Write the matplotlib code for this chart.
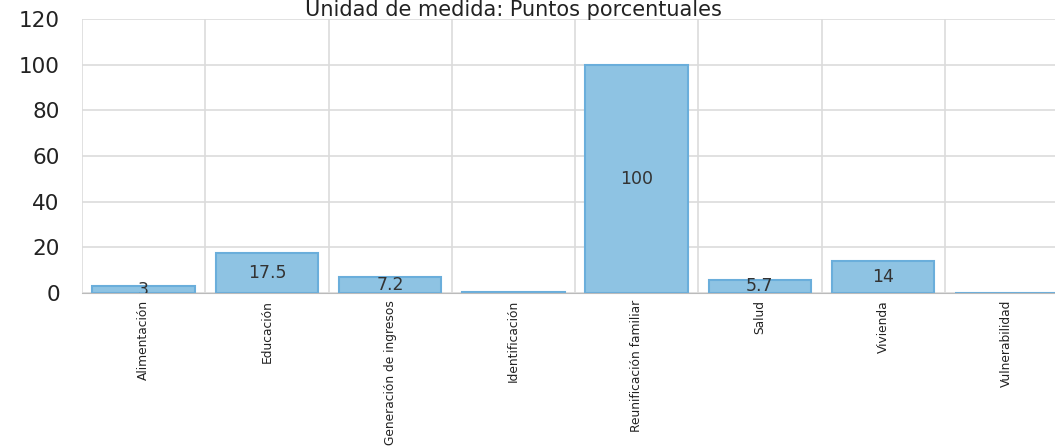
import matplotlib
matplotlib.use("Agg")
import matplotlib.pyplot as plt
import numpy as np

# Data
categories = ["Alimentación", "Educación", "Generación de ingresos", "Identificación",
              "Reunificación familiar", "Salud", "Vivienda", "Vulnerabilidad"]
values = [3, 17.5, 7.2, 0.3, 100, 5.7, 14, 0.2]
value_labels = ["3", "17.5", "7.2", "", "100", "5.7", "14", ""]
y_ticks = [0, 20, 40, 60, 80, 100, 120]

BAR_COLOR = "#8ec3e3"
EDGE_COLOR = "#6aaedb"
GRID_COLOR = "#dcdcdc"

plt.rcParams["font.family"] = ["DejaVu Sans"]

fig = plt.figure(figsize=(10.55, 4.47), dpi=100)
ax = fig.add_axes([82 / 1055, 154 / 447, 986 / 1055, 274 / 447])

x = np.arange(len(categories))
ax.bar(x, values, width=0.83, color=BAR_COLOR, edgecolor=EDGE_COLOR,
       linewidth=1.5, zorder=2)

for xi, v, lab in zip(x, values, value_labels):
    if lab:
        ax.text(xi, v / 2, lab, ha="center", va="center", fontsize=12.5,
                color="#333333", clip_on=True, zorder=3)

ax.set_xlim(-0.5, len(categories) - 0.5)
ax.set_ylim(0, 120)
ax.set_yticks(y_ticks)
ax.set_yticklabels([str(t) for t in y_ticks], fontsize=15.5, color="#222222")
ax.set_xticks(x)
ax.set_xticklabels(categories, rotation=90, fontsize=8.8, color="#222222",
                   family=["Liberation Sans Narrow", "DejaVu Sans"])
ax.set_xticks(np.arange(-0.5, len(categories), 1), minor=True)
ax.tick_params(axis="both", which="both", length=0)
ax.tick_params(axis="y", pad=16)
ax.tick_params(axis="x", pad=5)

ax.grid(True, axis="y", color=GRID_COLOR, linewidth=1.2, zorder=0)
ax.grid(True, axis="x", which="minor", color=GRID_COLOR, linewidth=1.2, zorder=0)
ax.grid(False, axis="x", which="major")
for s in ["top", "right", "left"]:
    ax.spines[s].set_visible(False)
ax.spines["bottom"].set_color("#bbbbbb")

fig.text(513 / 1055, (447 - 16) / 447, "Unidad de medida: Puntos porcentuales",
         ha="center", va="baseline", fontsize=15, color="#222222")

fig.savefig("out.png", dpi=100)
